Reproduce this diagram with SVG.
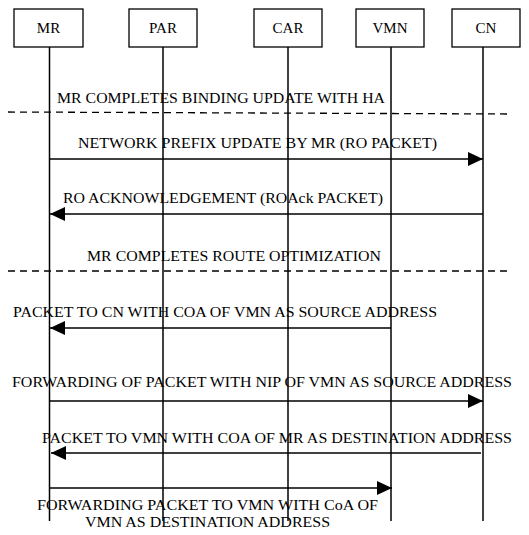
<svg xmlns="http://www.w3.org/2000/svg" width="529" height="535" viewBox="0 0 529 535">
<defs>
<style>
.box{fill:#fff;stroke:#000;stroke-width:1.3}
.life{stroke:#000;stroke-width:1.5;fill:none}
.msg{stroke:#000;stroke-width:1.3;fill:none;marker-end:url(#ah)}
.dash{stroke:#000;stroke-width:1.3;fill:none;stroke-dasharray:7,5}
text{font-family:"Liberation Serif","Times New Roman",serif;font-size:15.5px;fill:#000}
.n{font-size:15px;text-anchor:middle}
</style>
<marker id="ah" markerUnits="userSpaceOnUse" markerWidth="16" markerHeight="14" refX="15" refY="7" orient="auto">
<path d="M0,0 L15,7 L0,14 Z" fill="#000"/>
</marker>
</defs>
<rect width="529" height="535" fill="#fff"/>
<g id="lifelines">
<line class="life" x1="49.5" y1="47" x2="49.5" y2="521"/>
<line class="life" x1="163" y1="47" x2="163" y2="521"/>
<line class="life" x1="288" y1="47" x2="288" y2="521"/>
<line class="life" x1="391" y1="47" x2="391" y2="521"/>
<line class="life" x1="483" y1="47" x2="483" y2="521"/>
</g>
<g id="MR"><rect class="box" x="14" y="9" width="69" height="38"/><text class="n" x="48.5" y="33">MR</text></g>
<g id="PAR"><rect class="box" x="129" y="9" width="68" height="38"/><text class="n" x="163" y="33">PAR</text></g>
<g id="CAR"><rect class="box" x="254" y="9" width="68" height="38"/><text class="n" x="288" y="33">CAR</text></g>
<g id="VMN"><rect class="box" x="356" y="9" width="68" height="38"/><text class="n" x="390" y="33">VMN</text></g>
<g id="CN"><rect class="box" x="452" y="9" width="68" height="38"/><text class="n" x="486" y="33">CN</text></g>
<g id="connectors">
<line class="dash" x1="8" y1="112" x2="512" y2="114"/>
<line class="msg" x1="50" y1="159" x2="483" y2="159"/>
<line class="msg" x1="483" y1="214" x2="50" y2="214"/>
<line class="dash" x1="8" y1="271" x2="512" y2="271"/>
<line class="msg" x1="391" y1="328" x2="50" y2="328"/>
<line class="msg" x1="49" y1="401" x2="483" y2="401"/>
<line class="msg" x1="481" y1="453" x2="51" y2="453"/>
<line class="msg" x1="49" y1="488" x2="392" y2="488"/>
</g>
<g id="labels">
<text x="57" y="103" textLength="328" lengthAdjust="spacingAndGlyphs">MR COMPLETES BINDING UPDATE WITH HA</text>
<text x="78" y="148" textLength="359" lengthAdjust="spacingAndGlyphs">NETWORK PREFIX UPDATE BY MR (RO PACKET)</text>
<text x="63" y="203" textLength="320" lengthAdjust="spacingAndGlyphs">RO ACKNOWLEDGEMENT (ROAck PACKET)</text>
<text x="87" y="261" textLength="294" lengthAdjust="spacingAndGlyphs">MR COMPLETES ROUTE OPTIMIZATION</text>
<text x="13" y="317" textLength="424" lengthAdjust="spacingAndGlyphs">PACKET TO CN WITH COA OF VMN AS SOURCE ADDRESS</text>
<text x="12" y="387" textLength="500" lengthAdjust="spacingAndGlyphs">FORWARDING OF PACKET WITH NIP OF VMN AS SOURCE ADDRESS</text>
<text x="42" y="443" textLength="470" lengthAdjust="spacingAndGlyphs">PACKET TO VMN WITH COA OF MR AS DESTINATION ADDRESS</text>
<text x="37" y="510" textLength="341" lengthAdjust="spacingAndGlyphs">FORWARDING PACKET TO VMN WITH CoA OF</text>
<text x="85" y="527" textLength="245" lengthAdjust="spacingAndGlyphs">VMN AS DESTINATION ADDRESS</text>
</g>
</svg>
